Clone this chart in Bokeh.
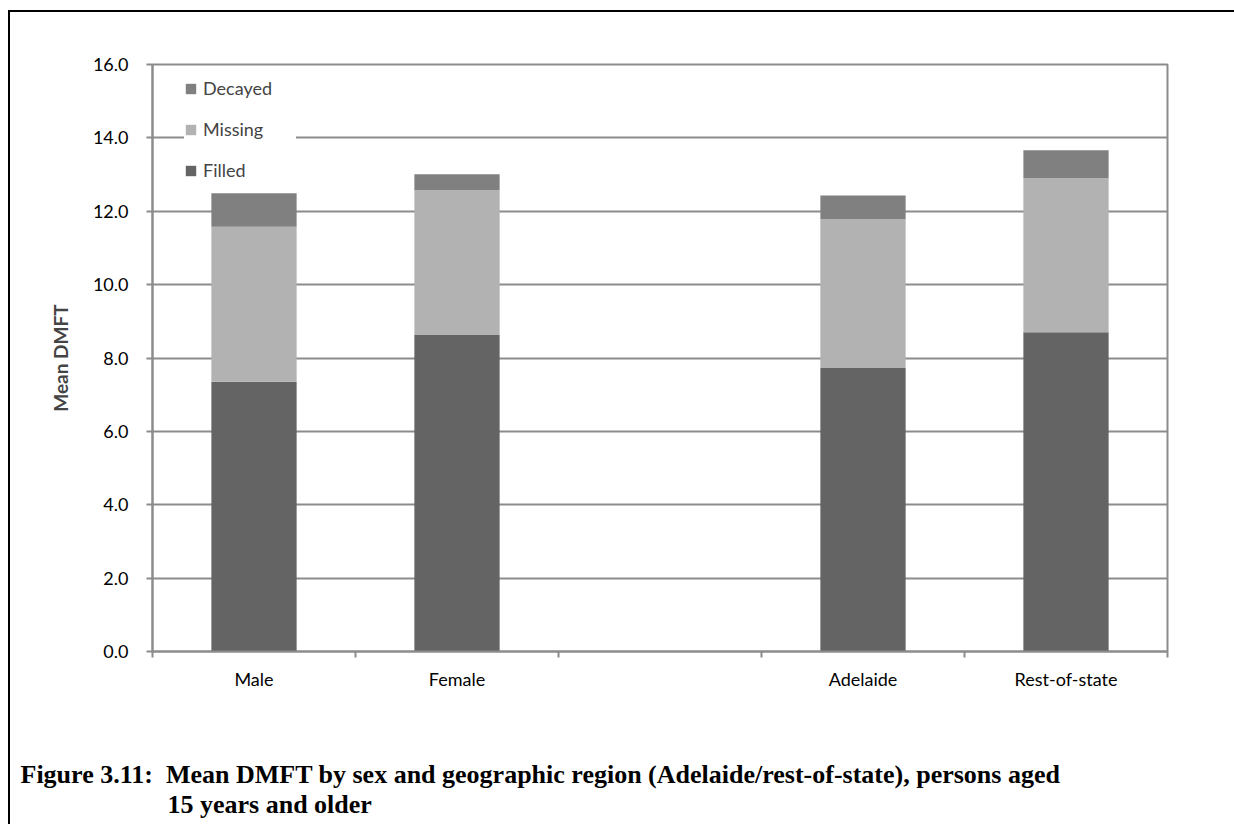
from bokeh.plotting import figure
from bokeh.models import (ColumnDataSource, FixedTicker, NumeralTickFormatter,
                          Legend, LegendItem, Title)
from bokeh.embed import file_html
from bokeh.resources import INLINE

# ---- data ----
categories = ["Male", "Female", "", "Adelaide", "Rest-of-state"]
bar_categories = ["Male", "Female", "Adelaide", "Rest-of-state"]
filled = [7.35, 8.63, 7.73, 8.70]
missing = [4.23, 3.94, 4.05, 4.20]
decayed = [0.91, 0.44, 0.65, 0.76]
series = ["Filled", "Missing", "Decayed"]
colors = ["#646464", "#b2b2b2", "#808080"]
y_ticks = [0, 2, 4, 6, 8, 10, 12, 14, 16]
caption_label = "Figure 3.11:"
caption_line1 = "Mean DMFT by sex and geographic region (Adelaide/rest-of-state), persons aged"
caption_line2 = "15 years and older"

x_pos = [categories.index(c) + 0.5 for c in bar_categories]
source = ColumnDataSource(dict(x=x_pos, cat=bar_categories, Filled=filled,
                               Missing=missing, Decayed=decayed))

W, H = 1245, 814
p = figure(width=W, height=H, output_backend="svg", toolbar_location=None,
           x_range=(0, len(categories)), y_range=(0, 16),
           min_border_left=142, min_border_top=52, min_border_right=W - 1157,
           min_border_bottom=H - 639)
p.styles = {"margin-top": "10px", "margin-left": "8px",
            "border-top": "2px solid black", "border-left": "2px solid black"}

renderers = p.vbar_stack(series, x="x", width=0.42, color=colors,
                         line_color=None, source=source)

GRAY = "#8c8c8c"
TICK_FONT = "Lato"

# y axis
p.yaxis.ticker = FixedTicker(ticks=y_ticks)
p.yaxis.formatter = NumeralTickFormatter(format="0.0")
p.yaxis.axis_label = "Mean DMFT"
p.yaxis.axis_label_text_font = TICK_FONT
p.yaxis.axis_label_text_font_style = "bold"
p.yaxis.axis_label_text_font_size = "19px"
p.yaxis.axis_label_standoff = 18
p.yaxis.major_label_text_font = TICK_FONT
p.yaxis.major_label_text_font_size = "18px"
p.yaxis.major_label_text_color = "black"
p.yaxis.major_label_standoff = 18
p.yaxis.major_tick_out = 6
p.yaxis.major_tick_in = 0
p.yaxis.minor_tick_line_color = None
p.yaxis.axis_line_color = GRAY
p.yaxis.axis_line_width = 2
p.yaxis.major_tick_line_color = GRAY
p.yaxis.major_tick_line_width = 2

# x axis: labels at category centres, tick marks at category boundaries
centers = [i + 0.5 for i in range(len(categories))]
bounds = list(range(len(categories) + 1))
p.xaxis.ticker = FixedTicker(ticks=centers, minor_ticks=bounds)
p.xaxis.major_label_overrides = {c: lab for c, lab in zip(centers, categories)}
p.xaxis.major_label_text_font = TICK_FONT
p.xaxis.major_label_text_font_size = "18px"
p.xaxis.major_label_text_color = "black"
p.xaxis.major_label_standoff = 10
p.xaxis.major_tick_line_color = None
p.xaxis.major_tick_out = 6
p.xaxis.major_tick_in = 0
p.xaxis.minor_tick_out = 6
p.xaxis.minor_tick_in = 0
p.xaxis.minor_tick_line_color = GRAY
p.xaxis.minor_tick_line_width = 2
p.xaxis.axis_line_color = GRAY
p.xaxis.axis_line_width = 2

p.xgrid.grid_line_color = None
p.ygrid.grid_line_color = GRAY
p.ygrid.grid_line_width = 2
p.outline_line_color = GRAY
p.outline_line_width = 2

# legend (top item = Decayed)
items = [LegendItem(label=s, renderers=[r]) for s, r in zip(series, renderers)][::-1]
legend = Legend(items=items, location=(32, 470), padding=8, spacing=19,
                glyph_width=13, glyph_height=13, label_height=12, label_width=93,
                label_standoff=6, label_text_font=TICK_FONT,
                label_text_font_size="18px", background_fill_color="white",
                background_fill_alpha=1.0, border_line_color=None, margin=0)
p.add_layout(legend, "center")

# caption as titles below the x axis
CAP_FONT = "Liberation Serif"
NBSP = "\u00a0"
spacer = Title(text=" ", standoff=53, text_font_size="10px")
t1 = Title(text=caption_label + NBSP * 2 + caption_line1, align="left",
           offset=-132, standoff=0, vertical_align="middle",
           text_font=CAP_FONT, text_font_style="bold", text_font_size="26px",
           text_color="black")
t2 = Title(text=caption_line2, align="left", offset=15, standoff=-2,
           vertical_align="middle", text_font=CAP_FONT,
           text_font_style="bold", text_font_size="26px", text_color="black")
p.add_layout(spacer, "below")
p.add_layout(t1, "below")
p.add_layout(t2, "below")

open("out.html", "w").write(file_html(p, INLINE))
